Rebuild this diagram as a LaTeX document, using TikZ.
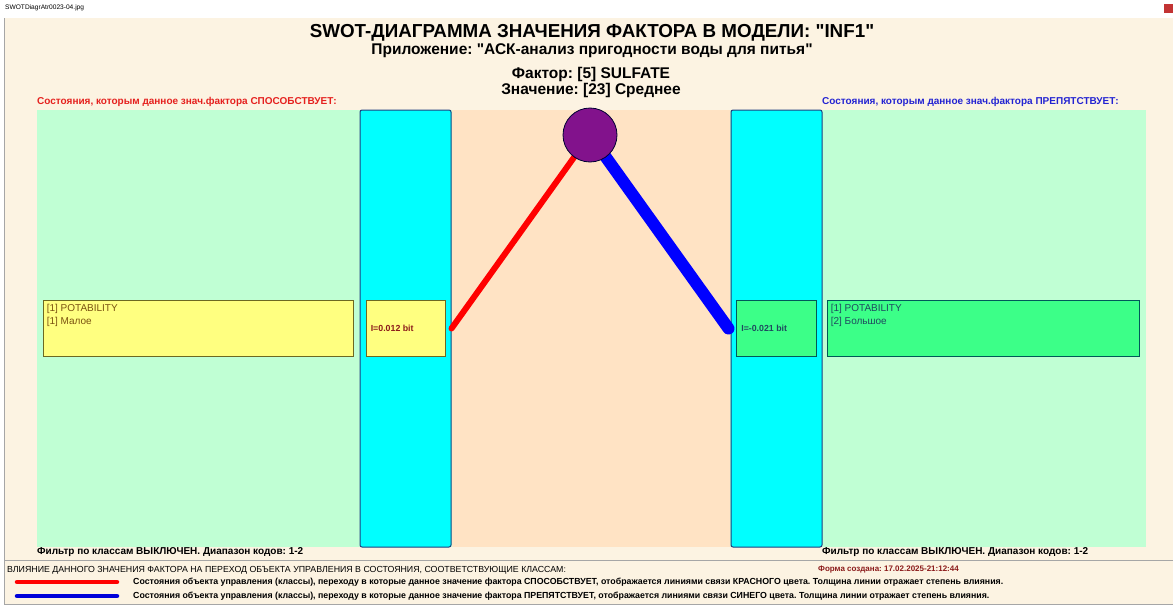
\documentclass[tikz,border=0pt]{standalone}
\usepackage{fontspec}
\setmainfont{Liberation Sans}[Ligatures=TeXOff]
\usetikzlibrary{positioning}
\frenchspacing
\definecolor{formbg}{HTML}{FCF3E2}
\definecolor{mint}{HTML}{C0FFD4}
\definecolor{peach}{HTML}{FFE3C4}
\definecolor{slotfill}{HTML}{00FFFF}
\definecolor{slotedge}{HTML}{1F3F7F}
\definecolor{clsyellow}{HTML}{FFFF80}
\definecolor{clsgreen}{HTML}{3CFF88}
\definecolor{hubfill}{HTML}{82128C}
\definecolor{hdred}{HTML}{E5201E}
\definecolor{hdblue}{HTML}{2323D2}
\definecolor{txtbrown}{HTML}{7A5210}
\definecolor{txtteal}{HTML}{1F4A5F}
\definecolor{stamp}{HTML}{8B1A1A}

\begin{document}
\begin{tikzpicture}[x=1pt,y=-1pt,
  slot/.style={draw=slotedge,fill=slotfill,rounded corners=2pt,line width=1pt,minimum width=91,minimum height=437,inner sep=0},
  box/.style={draw=#1,line width=0.8pt,minimum height=56,inner sep=0},
  headtext/.style={anchor=west,inner sep=0,font=\bfseries\fontsize{10}{12}\selectfont},
  small/.style={anchor=west,inner sep=0,font=\fontsize{8.8}{10}\selectfont},
  pull/.style={line width=#1,line cap=round}]
\useasboundingbox (0,0) rectangle (1173,605);
% window and form
\fill[white] (0,0) rectangle (1173,18);
\node[anchor=west,inner sep=0,font=\fontsize{6.6}{7}\selectfont] (wtitle) at (5,8) {SWOTDiagrAtr0023-04.jpg};
\fill[red!70!black!80] (1164,4) rectangle (1173,13);
\fill[formbg] (4,18) rectangle (1173,604);
\draw[gray!70] (4.5,18) -- (4.5,604) -- (1173,604);
\draw[gray!70] (4,560) -- (1173,560);
% headings
\node[font=\bfseries\fontsize{18.8}{20}\selectfont] (title) at (592,33) {SWOT-ДИАГРАММА ЗНАЧЕНИЯ ФАКТОРА В МОДЕЛИ: "INF1"};
\node[font=\bfseries\fontsize{15.5}{16}\selectfont] (app) at (592,51) {Приложение: "АСК-анализ пригодности воды для питья"};
\node[font=\bfseries\fontsize{15.5}{16}\selectfont] (fact) at (591,74) {Фактор: [5] SULFATE};
\node[font=\bfseries\fontsize{15.5}{16}\selectfont] (val) at (591,90) {Значение: [23] Среднее};
\node[headtext,text=hdred] (lhead) at (37,102) {Состояния, которым данное знач.фактора СПОСОБСТВУЕТ:};
\node[headtext,text=hdblue] (rhead) at (822,102) {Состояния, которым данное знач.фактора ПРЕПЯТСТВУЕТ:};
% panels
\fill[mint] (37,110) rectangle (1146,547);
\fill[peach] (452,110) rectangle (730,547);
\node[slot] (lslot) at (405.5,328.5) {};
\node[slot] (rslot) at (776.5,328.5) {};
% classes
\node[box=olive!70!black,fill=clsyellow,minimum width=310] (lcls) at (198,328) {};
\node[box=olive!70!black,fill=clsyellow,minimum width=79] (lval) at (lslot |- lcls) {};
\node[box=teal!70!black,fill=clsgreen,minimum width=80] (rval) at (rslot |- lcls) {};
\node[box=teal!70!black,fill=clsgreen,minimum width=312] (rcls) at (983,328) {};
\node[anchor=north west,inner sep=0,align=left,text=txtbrown,font=\fontsize{10}{13}\selectfont] (ltxt) at ([shift={(4,4)}]lcls.north west) {[1] POTABILITY\\{}[1] Малое};
\node[anchor=north west,inner sep=0,align=left,text=txtteal,font=\fontsize{10}{13}\selectfont] (rtxt) at ([shift={(4,4)}]rcls.north west) {[1] POTABILITY\\{}[2] Большое};
\node[anchor=west,inner sep=0,text=stamp,font=\bfseries\fontsize{8.8}{9}\selectfont] (lbit) at ([xshift=5]lval.west) {I=0.012 bit};
\node[anchor=west,inner sep=0,text=txtteal,font=\bfseries\fontsize{8.8}{9}\selectfont] (rbit) at ([xshift=5]rval.west) {I=-0.021 bit};
% links
\coordinate (hub) at (590,135);
\draw[pull=6,red] (hub) -- (lslot.east);
\draw[pull=12,blue] (hub) -- ([xshift=-2]rslot.west);
\node[circle,draw=black!80!blue,fill=hubfill,line width=0.8pt,minimum size=54] (fac) at (hub) {};
% footer
\node[headtext] (lfilt) at (37,552) {Фильтр по классам ВЫКЛЮЧЕН. Диапазон кодов: 1-2};
\node[headtext] (rfilt) at (822,552) {Фильтр по классам ВЫКЛЮЧЕН. Диапазон кодов: 1-2};
\node[small] (legend) at (7,570) {ВЛИЯНИЕ ДАННОГО ЗНАЧЕНИЯ ФАКТОРА НА ПЕРЕХОД ОБЪЕКТА УПРАВЛЕНИЯ В СОСТОЯНИЯ, СООТВЕТСТВУЮЩИЕ КЛАССАМ:};
\node[small,text=stamp,font=\bfseries\fontsize{8}{10}\selectfont] (made) at (818,570) {Форма создана: 17.02.2025-21:12:44};
\coordinate (ra) at (17,582); \coordinate (rb) at (117,582);
\coordinate (ba) at (17,596); \coordinate (bb) at (117,596);
\draw[pull=4.5,red] (ra) -- (rb);
\draw[pull=4.5,blue!85!black] (ba) -- (bb);
\node[small,font=\bfseries\fontsize{8.8}{10}\selectfont] (redtxt) at (133,582) {Состояния объекта управления (классы), переходу в которые данное значение фактора СПОСОБСТВУЕТ, отображается линиями связи КРАСНОГО цвета. Толщина линии отражает степень влияния.};
\node[small,font=\bfseries\fontsize{8.8}{10}\selectfont] (bluetxt) at (133,596) {Состояния объекта управления (классы), переходу в которые данное значение фактора ПРЕПЯТСТВУЕТ, отображается линиями связи СИНЕГО цвета. Толщина линии отражает степень влияния.};
\end{tikzpicture}
\end{document}
